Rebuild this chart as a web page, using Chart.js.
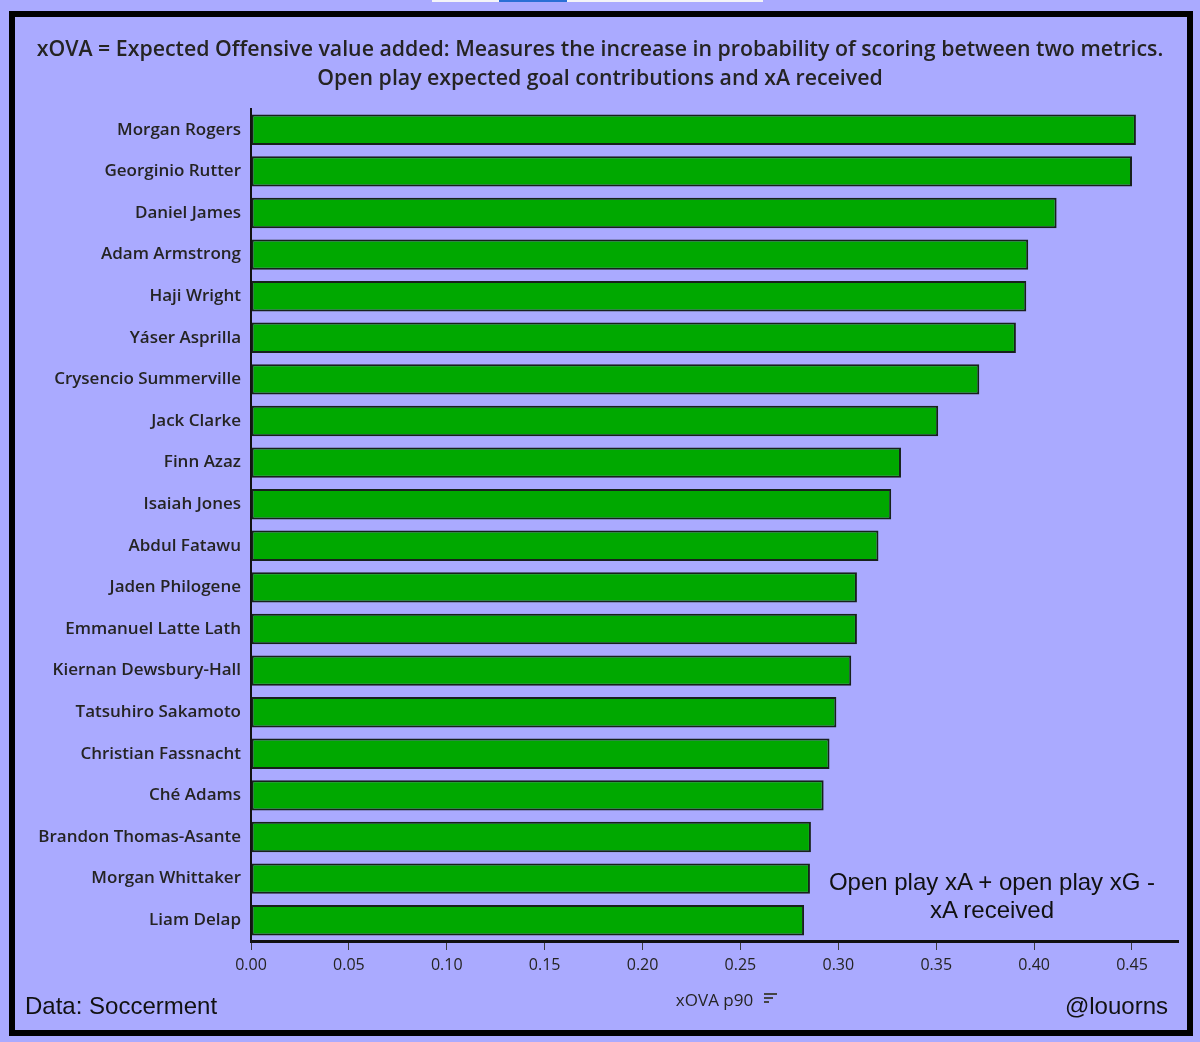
<!DOCTYPE html>
<html>
<head>
<meta charset="utf-8">
<title>xOVA p90</title>
<script src="https://cdn.jsdelivr.net/npm/chart.js@4.4.1/dist/chart.umd.min.js"></script>
<style>
    html, body { margin: 0; padding: 0; }
    body {
        width: 1200px;
        height: 1042px;
        position: relative;
        overflow: hidden;
        background: #aaaaff;
        color: #252423;
    }
    #chartWrap { position: absolute; left: 0; top: 0; width: 1200px; height: 1042px; }
    .frame {
        position: absolute; left: 9px; top: 11px; width: 1172px; height: 1013px;
        border: 6px solid #000; pointer-events: none;
    }
    .topStrip { position: absolute; top: 0; height: 2px; }
    .title {
        position: absolute; left: 0; top: 33px; width: 1200px; text-align: center;
        font-family: "Open Sans", sans-serif; font-weight: 600; font-size: 21.3px; line-height: 29px;
    }
    .note {
        position: absolute; left: 792px; top: 868px; width: 400px; text-align: center;
        font-family: "Liberation Sans", Arial, sans-serif; font-size: 24px; line-height: 28px; color: #111;
    }
    .foot {
        position: absolute; top: 992px;
        font-family: "Liberation Sans", Arial, sans-serif; font-size: 24px; line-height: 28px; color: #111;
    }
    .sortIcon { position: absolute; left: 764px; top: 993px; width: 14px; height: 13px; }
    .sortIcon span { display: block; height: 2px; background: #444; margin-bottom: 2px; }
</style>
</head>
<body>
<div class="topStrip" style="left:432px;width:331px;background:#f4f4f8;"></div>
<div class="topStrip" style="left:499px;width:68px;background:#2a6fd6;"></div>

<div id="chartWrap"><canvas id="xovaChart"></canvas></div>

<div class="title">xOVA = Expected Offensive value added: Measures the increase in probability of scoring between two metrics.<br>Open play expected goal contributions and xA received</div>

<div class="note">Open play xA + open play xG -<br>xA received</div>

<div class="foot" style="left:25px;">Data: Soccerment</div>
<div class="foot" style="right:32px;">@louorns</div>

<div class="sortIcon"><span style="width:13px"></span><span style="width:9px"></span><span style="width:5px"></span></div>

<div class="frame"></div>

<script>
const players = [
    'Morgan Rogers', 'Georginio Rutter', 'Daniel James', 'Adam Armstrong', 'Haji Wright',
    'Yáser Asprilla', 'Crysencio Summerville', 'Jack Clarke', 'Finn Azaz', 'Isaiah Jones',
    'Abdul Fatawu', 'Jaden Philogene', 'Emmanuel Latte Lath', 'Kiernan Dewsbury-Hall',
    'Tatsuhiro Sakamoto', 'Christian Fassnacht', 'Ché Adams', 'Brandon Thomas-Asante',
    'Morgan Whittaker', 'Liam Delap'
];
const xovaP90 = [
    0.452, 0.450, 0.4115, 0.397, 0.396,
    0.3907, 0.372, 0.351, 0.332, 0.327,
    0.3205, 0.3095, 0.3095, 0.3066,
    0.299, 0.2955, 0.2925, 0.286,
    0.2855, 0.2825
];
const axisMax = 0.4735;
const tickStep = 0.05;

const inkColor = '#252423';

function init() {
    const ctx = document.getElementById('xovaChart').getContext('2d');
    new Chart(ctx, {
        type: 'bar',
        data: {
            labels: players,
            datasets: [{
                label: 'xOVA p90',
                data: xovaP90,
                backgroundColor: '#00a800',
                borderColor: '#17211b',
                borderWidth: 2,
                borderSkipped: false,
                barPercentage: 0.73,
                categoryPercentage: 1.0
            }]
        },
        options: {
            indexAxis: 'y',
            responsive: true,
            maintainAspectRatio: false,
            animation: false,
            layout: { padding: { top: 109, right: 22, bottom: 0, left: 0 } },
            plugins: {
                legend: { display: false },
                tooltip: { enabled: false }
            },
            scales: {
                x: {
                    min: 0,
                    max: axisMax,
                    afterFit: (scale) => { scale.height = 101; },
                    grid: { drawOnChartArea: false, drawTicks: true, tickLength: 9, color: '#3a3a3a', lineWidth: 1 },
                    border: { display: true, color: '#111', width: 3 },
                    ticks: {
                        stepSize: tickStep,
                        includeBounds: false,
                        padding: 6,
                        color: inkColor,
                        font: { family: 'Open Sans', size: 16 },
                        callback: (v) => v.toFixed(2)
                    },
                    title: {
                        display: true,
                        text: 'xOVA p90',
                        color: inkColor,
                        font: { family: 'Open Sans', size: 17 },
                        padding: { top: 0, bottom: 31 }
                    }
                },
                y: {
                    afterFit: (scale) => { scale.width = 251; },
                    grid: { display: false },
                    border: { display: true, color: '#111', width: 2 },
                    ticks: {
                        padding: 2,
                        color: inkColor,
                        font: { family: 'Open Sans', size: 17, weight: '600' }
                    }
                }
            }
        }
    });
}

document.addEventListener('DOMContentLoaded', init);
</script>
</body>
</html>
